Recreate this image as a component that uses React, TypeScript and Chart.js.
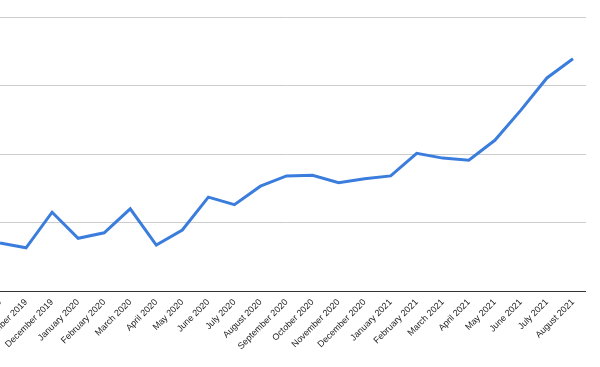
import React, { useEffect, useRef } from "react";
import { Chart, registerables } from "chart.js";

Chart.register(...registerables);

const months: string[] = [
  "October 2019", "November 2019", "December 2019", "January 2020", "February 2020",
  "March 2020", "April 2020", "May 2020", "June 2020", "July 2020", "August 2020",
  "September 2020", "October 2020", "November 2020", "December 2020", "January 2021",
  "February 2021", "March 2021", "April 2021", "May 2021", "June 2021", "July 2021",
  "August 2021",
];

const values: number[] = [
  70, 63, 115, 77, 85, 120, 67, 89, 137, 126, 153, 168, 169, 158, 164, 168,
  201, 194, 191, 220, 264, 311, 339,
];

const yMin = 0;
const yMax = 400;
const yStep = 100;

export default function App() {
  const ref = useRef<HTMLCanvasElement | null>(null);

  useEffect(() => {
    if (!ref.current) return;
    const chart = new Chart(ref.current, {
      type: "line",
      data: {
        labels: months,
        datasets: [
          {
            data: values,
            borderColor: "#3b7ddd",
            borderWidth: 3,
            pointRadius: 0,
            tension: 0,
            fill: false,
          },
        ],
      },
      options: {
        animation: false,
        responsive: false,
        maintainAspectRatio: false,
        layout: { padding: { top: 17, left: 0, right: 0, bottom: 0 } },
        plugins: { legend: { display: false }, tooltip: { enabled: false } },
        scales: {
          x: {
            offset: true,
            grid: { display: false, drawTicks: false },
            border: { display: true, color: "#333333", width: 1 },
            ticks: {
              autoSkip: false,
              minRotation: 45,
              maxRotation: 45,
              padding: 6,
              color: "#222222",
              font: { family: "'Liberation Sans', Arial, sans-serif", size: 9 },
            },
            afterFit: (scale: any) => {
              scale.paddingLeft = 0;
              scale.paddingRight = 0;
              scale.height = 76;
            },
          },
          y: {
            min: yMin,
            max: yMax,
            ticks: { display: false, stepSize: yStep },
            grid: { color: "#cccccc", lineWidth: 1, drawTicks: false },
            border: { display: false },
            afterFit: (scale: any) => {
              scale.width = 0;
            },
          },
        },
      },
    });
    return () => chart.destroy();
  }, []);

  return (
    <div
      style={{
        position: "fixed",
        left: 0,
        top: 0,
        width: 600,
        height: 367,
        overflow: "hidden",
        background: "#ffffff",
      }}
    >
      <canvas
        ref={ref}
        width={599}
        height={367}
        style={{ position: "absolute", left: -13, top: 0, width: 599, height: 367 }}
      />
    </div>
  );
}
